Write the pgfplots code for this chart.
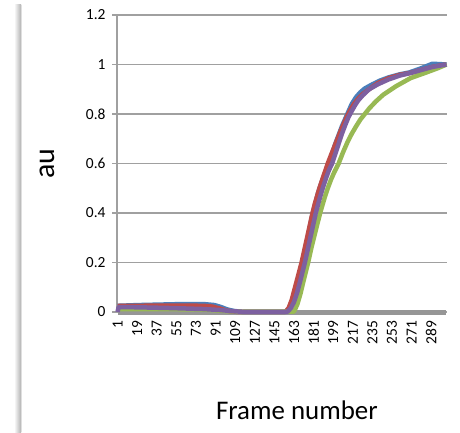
\documentclass[border=0pt]{standalone}
\usepackage{pgfplots}
\pgfplotsset{compat=1.18}
\usepackage{fontspec}
\setmainfont{Carlito}
\definecolor{sBlue}{HTML}{4A7EBB}
\definecolor{sRed}{HTML}{BE4B48}
\definecolor{sGreen}{HTML}{98B954}
\definecolor{sPurple}{HTML}{7D60A0}
\definecolor{sGrey}{HTML}{969696}
\definecolor{axGrey}{HTML}{A0A0A0}
\begin{document}
\begin{tikzpicture}[x=1bp,y=1bp]
\useasboundingbox (0,0) rectangle (460,432);
\fill[white] (0,0) rectangle (460,432);
\shade[left color=white, right color=gray!60] (14,0) rectangle (21,427);
\fill[gray!25] (21,0) rectangle (22,427);
\begin{axis}[
  at={(117bp,120bp)}, anchor=south west,
  scale only axis, width=330bp, height=297bp,
  xmin=0.5, xmax=303.5, ymin=0, ymax=1.2,
  axis lines*=left,
  axis line style={draw=axGrey, line width=1.2bp},
  xtick={1,19,37,55,73,91,109,127,145,163,181,199,217,235,253,271,289},
  xtick style={draw=none},
  ytick={0,0.2,0.4,0.6,0.8,1,1.2},
  yticklabels={0,0.2,0.4,0.6,0.8,1,1.2},
  ytick style={draw=axGrey, line width=1.2bp},
  tick align=outside, major tick length=5bp,
  ymajorgrids, grid style={draw=axGrey, line width=1.2bp},
  /pgf/number format/assume math mode=true,
  tick label style={font=\fontsize{15.5}{18}\selectfont, text=black},
  xticklabel style={rotate=90, anchor=east, xshift=0bp},
  yticklabel style={xshift=-3bp},
  ylabel={au}, xlabel={Frame number},
  ylabel style={font=\fontsize{30}{34}\selectfont, at={(axis description cs:-0.212,0.5)}, anchor=center},
  xlabel style={font=\fontsize{27}{31}\selectfont, at={(axis description cs:0.545,-0.33)}, anchor=center},
  clip=false,
]
\addplot[sGrey, line width=5bp] coordinates {(1,0) (303,0)};
\addplot[sBlue, line width=4.5bp, line join=round] coordinates {
(1,0.025) (20,0.028) (40,0.03) (60,0.032) (80,0.032) (90,0.028) (96,0.02) (102,0.01) (108,0.004) (115,0.001) (155,0.001)
(158,0.01) (161,0.04) (164,0.085) (167,0.135) (170,0.19) (173,0.25) (176,0.31) (179,0.375) (182,0.43) (185,0.48) (188,0.52)
(191,0.555) (195,0.6) (198,0.64) (201,0.68) (204,0.715) (207,0.75) (210,0.78) (213,0.81) (216,0.84) (220,0.868) (224,0.888)
(228,0.903) (235,0.92) (242,0.935) (250,0.948) (260,0.96) (269,0.968) (280,0.985) (290,1.003) (303,1.0)};
\addplot[sRed, line width=4.5bp, line join=round] coordinates {
(1,0.025) (20,0.025) (40,0.026) (60,0.026) (80,0.025) (88,0.022) (95,0.014) (100,0.007) (105,0.003) (110,0.001) (155,0.001)
(158,0.015) (161,0.05) (164,0.1) (167,0.15) (170,0.2) (173,0.26) (176,0.32) (178,0.36) (180,0.4) (182,0.435) (184,0.465)
(186,0.495) (188,0.522) (190,0.548) (192,0.574) (194,0.6) (197,0.634) (200,0.667) (203,0.7) (206,0.733) (209,0.764)
(212,0.793) (215,0.818) (218,0.84) (222,0.862) (226,0.88) (232,0.9) (240,0.925) (250,0.945) (260,0.958)
(271,0.967) (280,0.978) (290,0.99) (303,1.0)};
\addplot[sGreen, line width=4.5bp, line join=round] coordinates {
(1,0.012) (40,0.012) (80,0.01) (100,0.004) (115,0.001) (163,0.002)
(166,0.03) (169,0.075) (172,0.13) (176,0.2) (179,0.26) (183,0.33) (187,0.4) (189,0.43) (191,0.46) (194,0.5) (197,0.535)
(200,0.565) (204,0.6) (208,0.645) (212,0.685) (216,0.72) (220,0.75) (224,0.778) (228,0.8) (232,0.822) (238,0.85)
(245,0.878) (257,0.913) (270,0.945) (284,0.967) (295,0.985) (303,1.0)};
\addplot[sPurple, line width=4.5bp, line join=round] coordinates {
(1,0.0) (2,0.02) (20,0.019) (50,0.016) (80,0.012) (95,0.008) (105,0.004) (115,0.001) (157,0.001)
(160,0.015) (163,0.04) (166,0.08) (169,0.13) (173,0.2) (176,0.26) (179,0.32) (181,0.36) (183,0.4) (185,0.433) (187,0.465)
(189,0.495) (191,0.522) (193,0.548) (195,0.572) (198,0.6) (201,0.64) (204,0.68) (207,0.72) (210,0.755) (213,0.787)
(216,0.812) (219,0.835) (222,0.855) (226,0.875) (232,0.9) (240,0.92) (250,0.94) (260,0.955)
(271,0.967) (280,0.978) (290,0.99) (303,1.0)};
\end{axis}
\end{tikzpicture}
\end{document}
